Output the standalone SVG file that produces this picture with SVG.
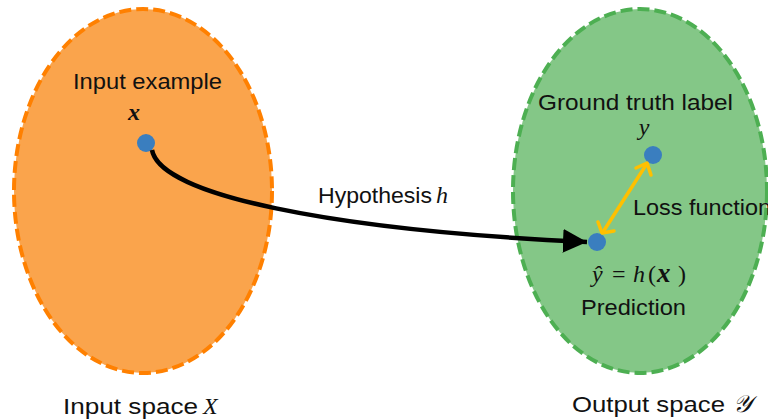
<svg xmlns="http://www.w3.org/2000/svg" width="768" height="420" viewBox="0 0 768 420">
  <style>
    .lbl { font-family: "Liberation Sans", Arial, sans-serif; font-size: 22px; fill: #111; }
    .math { font-family: "Liberation Serif", "DejaVu Serif", serif; font-style: italic; font-size: 24px; fill: #111; }
    .up { font-style: normal; }
    .dot { fill: #3A7EBF; }
  </style>
  <defs>
    <marker id="head" markerUnits="userSpaceOnUse" markerWidth="26" markerHeight="24" refX="24" refY="12" orient="auto">
      <path d="M0,0 L24,12 L0,24 Z" fill="#000"/>
    </marker>
  </defs>

  <!-- input space -->
  <g id="input-space">
    <ellipse cx="143" cy="191" rx="129" ry="182" fill="#FAA44C" stroke="#FF8000" stroke-width="4" stroke-dasharray="12 5"/>
    <text class="lbl" x="63" y="414" textLength="135" lengthAdjust="spacingAndGlyphs">Input space</text>
    <text class="math" x="203" y="414">X</text>
  </g>

  <!-- output space -->
  <g id="output-space">
    <ellipse cx="640" cy="191" rx="127" ry="182" fill="#84C787" stroke="#4DAF52" stroke-width="4" stroke-dasharray="12 5"/>
    <text class="lbl" x="572" y="412" textLength="153" lengthAdjust="spacingAndGlyphs">Output space</text>
    <text class="math" x="733" y="412">𝒴</text>
  </g>

  <!-- input example x -->
  <g id="input-example">
    <circle class="dot" cx="146" cy="143" r="9"/>
    <text class="lbl" x="73" y="89" textLength="149" lengthAdjust="spacingAndGlyphs">Input example</text>
    <text class="math" x="134" y="120" text-anchor="middle" font-weight="bold" font-size="26">x</text>
  </g>

  <!-- ground truth label y -->
  <g id="ground-truth">
    <circle class="dot" cx="653" cy="155" r="9"/>
    <text class="lbl" x="538" y="110" textLength="195" lengthAdjust="spacingAndGlyphs">Ground truth label</text>
    <text class="math" x="644" y="135" text-anchor="middle">y</text>
  </g>

  <!-- prediction -->
  <g id="prediction">
    <circle class="dot" cx="597" cy="242" r="9"/>
    <text class="math" y="282"><tspan x="592">ŷ</tspan><tspan x="612" class="up">=</tspan><tspan x="633">h</tspan><tspan x="648" class="up">(</tspan><tspan x="657" font-weight="bold" font-size="27">x</tspan><tspan x="678" class="up">)</tspan></text>
    <text class="lbl" x="581" y="315" textLength="105" lengthAdjust="spacingAndGlyphs">Prediction</text>
  </g>

  <!-- connectors -->
  <g id="connectors">
    <path d="M152,150 C160,195 330,230 587,242" fill="none" stroke="#000" stroke-width="4.5" marker-end="url(#head)"/>
    <text class="lbl" x="318" y="203" textLength="114" lengthAdjust="spacingAndGlyphs">Hypothesis</text>
    <text class="math" x="436" y="203">h</text>

    <g stroke="#FFC000" stroke-width="3.5" fill="none" stroke-linecap="round" stroke-linejoin="round">
      <line x1="646" y1="165" x2="603" y2="232"/>
      <polyline points="636,168 647,163 651,175"/>
      <polyline points="598,222 602,233 614,231"/>
    </g>
    <text class="lbl" x="633" y="215" textLength="138" lengthAdjust="spacingAndGlyphs">Loss function</text>
  </g>
</svg>
